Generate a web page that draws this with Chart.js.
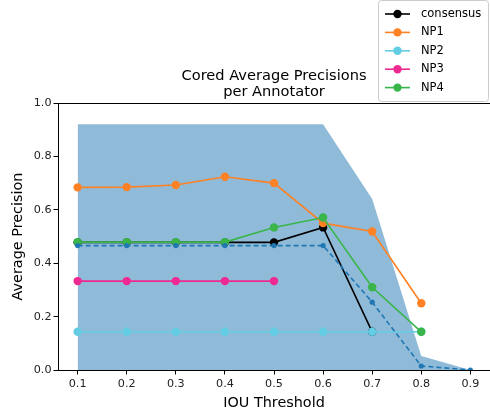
<!DOCTYPE html>
<html>
<head>
<meta charset="utf-8">
<script src="https://cdn.jsdelivr.net/npm/chart.js@4"></script>
<style>
  html, body { margin: 0; padding: 0; background: #fff; }
  #wrap { width: 490px; height: 412px; }
</style>
</head>
<body>
<div id="wrap"><canvas id="myChart" width="490" height="412"></canvas></div>
<script>
// values
const iou = [0.1, 0.2, 0.3, 0.4, 0.5, 0.6, 0.7, 0.8, 0.9];
const xTicks = [0.1, 0.2, 0.3, 0.4, 0.5, 0.6, 0.7, 0.8, 0.9];
const yTicks = [0.0, 0.2, 0.4, 0.6, 0.8, 1.0];

const consensus = [0.478, 0.478, 0.478, 0.478, 0.478, 0.534, 0.143];
const np1 = [0.684, 0.685, 0.693, 0.724, 0.700, 0.550, 0.519, 0.250];
const np2 = [0.143, 0.143, 0.143, 0.143, 0.143, 0.143, 0.143, 0.143];
const np3 = [0.333, 0.333, 0.333, 0.333, 0.333];
const np4 = [0.479, 0.479, 0.479, 0.479, 0.534, 0.571, 0.310, 0.143];
const meanAP = [0.466, 0.466, 0.466, 0.466, 0.466, 0.466, 0.254, 0.015, 0.0];
const bandLow = [0, 0, 0, 0, 0, 0, 0, 0, 0];
const bandHigh = [0.92, 0.92, 0.92, 0.92, 0.92, 0.92, 0.64, 0.052, 0.0];

const pts = vals => vals.map((v, i) => ({ x: iou[i], y: v }));

const annotators = [
    { label: 'consensus', data: consensus, color: '#000000', order: 6 },
    { label: 'NP1', data: np1, color: '#ff8125', order: 5 },
    { label: 'NP2', data: np2, color: '#62cde3', order: 4 },
    { label: 'NP3', data: np3, color: '#ee2a92', order: 3 },
    { label: 'NP4', data: np4, color: '#39b54a', order: 2 }
];

const font = 'DejaVu Sans';

const lineSets = annotators.map(a => ({
    label: a.label,
    data: pts(a.data),
    borderColor: a.color,
    backgroundColor: a.color,
    borderWidth: 1.6,
    pointRadius: 4.2,
    pointBorderWidth: 0,
    fill: false,
    order: a.order
}));

// draws title, axis labels, top spine and the legend outside the axes
const extras = {
    id: 'extras',
    afterDraw(chart) {
        const c = chart.ctx;
        const a = chart.chartArea;
        c.save();
        c.strokeStyle = '#000';
        c.lineWidth = 1;
        c.beginPath();
        c.moveTo(a.left, a.top + 0.5);
        c.lineTo(a.right, a.top + 0.5);
        c.stroke();

        c.fillStyle = '#000';
        c.textAlign = 'center';
        c.textBaseline = 'middle';
        c.font = '14.6px "' + font + '"';
        const cx = (a.left + a.right) / 2;
        c.fillText('Cored Average Precisions', cx, 76);
        c.fillText('per Annotator', cx, 92);

        c.font = '14.4px "' + font + '"';
        c.fillText('IOU Threshold', cx, 403);
        c.save();
        c.translate(18, (a.top + a.bottom) / 2);
        c.rotate(-Math.PI / 2);
        c.fillText('Average Precision', 0, 0);
        c.restore();

        // legend
        c.fillStyle = 'rgba(255,255,255,0.85)';
        c.strokeStyle = '#cccccc';
        c.beginPath();
        c.roundRect(378.5, 0.5, 110, 101, 3);
        c.fill();
        c.stroke();
        c.font = '11.5px "' + font + '"';
        c.textAlign = 'left';
        annotators.forEach((an, i) => {
            const y = 14 + i * 18.4;
            c.strokeStyle = an.color;
            c.fillStyle = an.color;
            c.lineWidth = 1.6;
            c.beginPath();
            c.moveTo(385, y);
            c.lineTo(410, y);
            c.stroke();
            c.beginPath();
            c.arc(397.5, y, 4.2, 0, Math.PI * 2);
            c.fill();
            c.fillStyle = '#000';
            c.fillText(an.label, 421, y);
        });
        c.restore();
    }
};

new Chart(document.getElementById('myChart').getContext('2d'), {
    type: 'line',
    data: {
        datasets: [
            {
                label: 'low',
                data: pts(bandLow),
                borderWidth: 0,
                pointRadius: 0,
                fill: false,
                order: 10
            },
            {
                label: 'band',
                data: pts(bandHigh),
                borderWidth: 0,
                pointRadius: 0,
                backgroundColor: 'rgba(31,119,180,0.5)',
                fill: '-1',
                order: 9
            },
            ...lineSets,
            {
                label: 'mean',
                data: pts(meanAP),
                borderColor: '#1f77b4',
                backgroundColor: '#1f77b4',
                borderWidth: 1.6,
                borderDash: [5, 3],
                pointRadius: 2.6,
                pointBorderWidth: 0,
                fill: false,
                order: 1
            }
        ]
    },
    options: {
        responsive: false,
        animation: false,
        layout: { autoPadding: false, padding: { top: 103, left: 0, right: 0, bottom: 0 } },
        plugins: {
            legend: { display: false },
            title: { display: false },
            tooltip: { enabled: false }
        },
        scales: {
            x: {
                type: 'linear',
                min: 0.06,
                max: 0.94,
                afterBuildTicks: s => { s.ticks = xTicks.map(v => ({ value: v })); },
                afterFit: s => { s.height = 42; s.paddingLeft = 0; s.paddingRight = 0; },
                grid: { display: true, drawOnChartArea: false, drawTicks: true, tickLength: 4.5, color: '#000' },
                border: { display: true, color: '#000', width: 1 },
                ticks: {
                    color: '#222',
                    padding: 2.5,
                    maxRotation: 0,
                    font: { family: font, size: 11.2 },
                    callback: v => v.toFixed(1)
                }
            },
            y: {
                min: 0,
                max: 1,
                afterBuildTicks: s => { s.ticks = yTicks.map(v => ({ value: v })); },
                afterFit: s => { s.width = 58; s.paddingTop = 0; s.paddingBottom = 0; },
                grid: { display: true, drawOnChartArea: false, drawTicks: true, tickLength: 4.5, color: '#000' },
                border: { display: true, color: '#000', width: 1 },
                ticks: {
                    color: '#222',
                    padding: 2,
                    font: { family: font, size: 11.2 },
                    callback: v => v.toFixed(1)
                }
            }
        }
    },
    plugins: [extras]
});
</script>
</body>
</html>
